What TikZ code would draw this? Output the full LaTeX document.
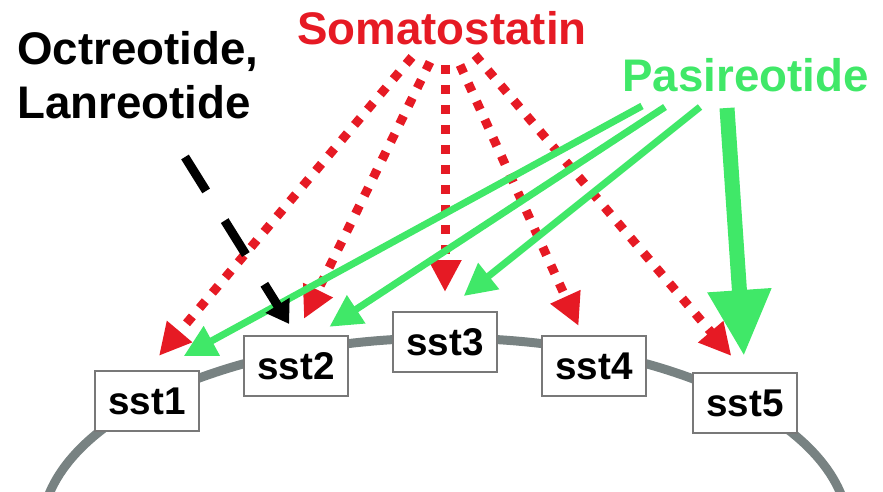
\documentclass[tikz,border=0pt]{standalone}
\usepackage{fontspec}
\setmainfont{Liberation Sans}
\usetikzlibrary{arrows.meta}

\definecolor{somred}{RGB}{230,26,36}
\definecolor{pasgreen}{RGB}{64,232,104}
\definecolor{membrane}{RGB}{120,130,130}
\definecolor{boxline}{RGB}{120,120,120}

\tikzset{
  receptor/.style={draw=boxline, line width=0.04cm, fill=white, inner sep=0pt,
    minimum width=2.08cm, minimum height=1.2cm,
    font=\fontsize{22}{26}\selectfont\bfseries},
  drug/.style={inner sep=0pt, font=\fontsize{26}{31}\selectfont\bfseries},
  somarrow/.style={somred, line width=0.18cm, line cap=butt,
    dash pattern=on 0.18cm off 0.22cm,
    -{Triangle[length=0.64cm, width=0.62cm]}},
  pasarrow/.style={pasgreen, line width=0.14cm,
    -{Triangle[length=0.64cm, width=0.64cm]}},
  pasthick/.style={pasgreen, line width=0.3cm,
    -{Triangle[length=1.32cm, width=1.2cm]}},
  octarrow/.style={black, line width=0.18cm,
    dash pattern=on 0.8cm off 0.7cm,
    -{Triangle[length=0.44cm, width=0.54cm]}}
}

\begin{document}
\begin{tikzpicture}[x=0.02cm, y=-0.02cm]

  \useasboundingbox (0,0) rectangle (883,492);

  % ── Cell membrane ────────────────────────────────────────────────
  \begin{scope}
    \clip (0,0) rectangle (883,492);
    \draw[membrane, line width=0.18cm] (445,531.6) ellipse [x radius=403.5, y radius=193.6];
  \end{scope}

  % ── Receptors on the membrane ────────────────────────────────────
  \node[receptor] (sst1) at (147,401) {sst1};
  \node[receptor] (sst2) at (296,366) {sst2};
  \node[receptor] (sst3) at (445,342) {sst3};
  \node[receptor] (sst4) at (594,366) {sst4};
  \node[receptor] (sst5) at (745,403) {sst5};

  % ── Ligand labels ────────────────────────────────────────────────
  \node[drug, anchor=north west, align=left] (oct) at (17,31) {Octreotide,\\Lanreotide};
  \node[drug, somred, anchor=base west] (som) at (297,45) {Somatostatin};
  \node[drug, pasgreen, anchor=base west] (pas) at (622,92) {Pasireotide};

  % arrow origins below the labels
  \coordinate (som1) at (412,57);
  \coordinate (som2) at (430,62);
  \coordinate (som3) at (445,65);
  \coordinate (som4) at (460,65);
  \coordinate (som5) at (475,55);
  \coordinate (pas1) at (642,106);
  \coordinate (pas2) at (665,107);
  \coordinate (pas3) at (700,107);
  \coordinate (pas4) at (727,108);
  \coordinate (octx) at (185,157);

  % ── Somatostatin binds all five ──────────────────────────────────
  \draw[somarrow, shorten >=0.37cm] (som1) -- (sst1.north);
  \draw[somarrow, shorten >=0.36cm] (som2) -- (sst2.north);
  \draw[somarrow, shorten >=0.38cm] (som3) -- (sst3.north);
  \draw[somarrow, shorten >=0.2cm]  (som4) -- (sst4.110);
  \draw[somarrow, shorten >=0.42cm] (som5) -- (sst5.north);

  % ── Pasireotide: sst1, sst2, sst3, sst5 ──────────────────────────
  \draw[pasarrow, shorten >=0.58cm] (pas1) -- (sst1.70);
  \draw[pasarrow, shorten >=0.3cm]  (pas2) -- (sst2.56);
  \draw[pasarrow, shorten >=0.48cm] (pas3) -- (sst3.north);
  \draw[pasthick, shorten >=0.32cm] (pas4) -- (sst5.north);

  % ── Octreotide / Lanreotide: sst2 ────────────────────────────────
  \draw[octarrow, shorten >=0.26cm] (octx) -- (sst2.north);

\end{tikzpicture}
\end{document}
